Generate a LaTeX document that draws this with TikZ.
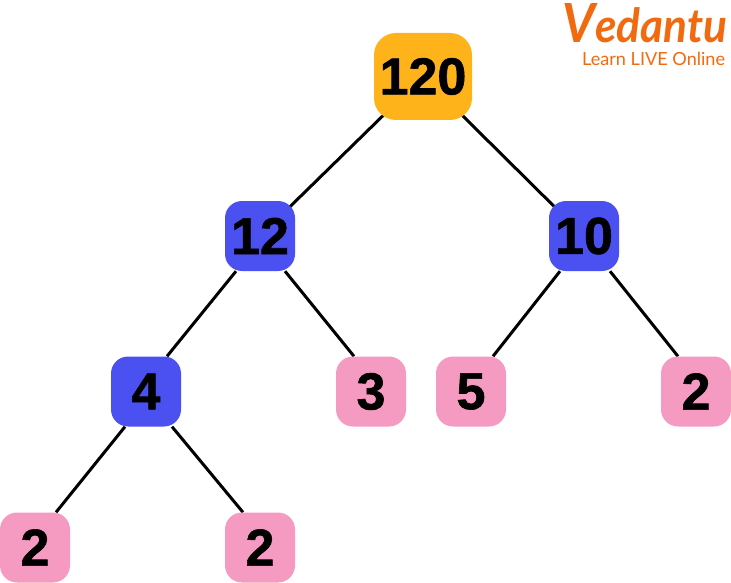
\documentclass[tikz,border=0pt]{standalone}
\usepackage{fontspec}
\setmainfont{Liberation Sans}
\newfontfamily\digitfont{Liberation Sans Bold}[FakeBold=1.2]
\newfontfamily\logofont{Lato}
\usetikzlibrary{backgrounds}
\definecolor{rootc}{HTML}{FFB31A}
\definecolor{innerc}{HTML}{4B50F0}
\definecolor{leafc}{HTML}{F59AC0}
\definecolor{logoc}{HTML}{F26A0F}
\tikzset{
 box/.style={rounded corners=17pt,minimum width=70pt,minimum height=70pt,inner sep=0pt,text=black,font=\digitfont\fontsize{52}{52}\selectfont},
 inner/.style={box,fill=innerc},
 leaf/.style={box,fill=leafc},
 root/.style={box,fill=rootc,minimum width=98pt,minimum height=87pt,rounded corners=22pt},
 edge/.style={line width=3pt,black}
}
\begin{document}
\begin{tikzpicture}[x=1pt,y=-1pt]
\useasboundingbox (0,0) rectangle (731,583);
\node[root] (r) at (423,76.5) {120};
\node[inner] (a) at (260,236) {12};
\node[inner] (b) at (584,236) {10};
\node[inner] (c) at (146,391.5) {4};
\node[leaf] (d) at (371,391.5) {3};
\node[leaf] (e) at (471,391.5) {5};
\node[leaf] (f) at (696,391.5) {2};
\node[leaf] (g) at (35,547.5) {2};
\node[leaf] (h) at (260,547.5) {2};
\begin{scope}[on background layer]
\draw[edge] (r.center) -- (a.center);
\draw[edge] (r.center) -- (b.center);
\draw[edge] ([xshift=-24pt]a.south) -- ([xshift=21pt]c.north);
\draw[edge] ([xshift=25pt]a.south) -- ([xshift=-17pt]d.north);
\draw[edge] ([xshift=-24pt]b.south) -- ([xshift=22pt]e.north);
\draw[edge] ([xshift=26pt]b.south) -- ([xshift=-18pt]f.north);
\draw[edge] ([xshift=-21pt]c.south) -- ([xshift=21pt]g.north);
\draw[edge] ([xshift=26pt]c.south) -- ([xshift=-17pt]h.north);
\end{scope}
\node[text=logoc,anchor=base west,inner sep=0pt,xscale=.94,font=\logofont\itshape\bfseries\fontsize{47}{47}\selectfont] (l) at (562,43) {{\fontsize{54}{54}\selectfont V}edantu};
\node[text=logoc,anchor=base west,inner sep=0pt,font=\logofont\fontsize{18.1}{18}\selectfont] (s) at (582,66) {Learn LIVE Online};
\end{tikzpicture}
\end{document}
